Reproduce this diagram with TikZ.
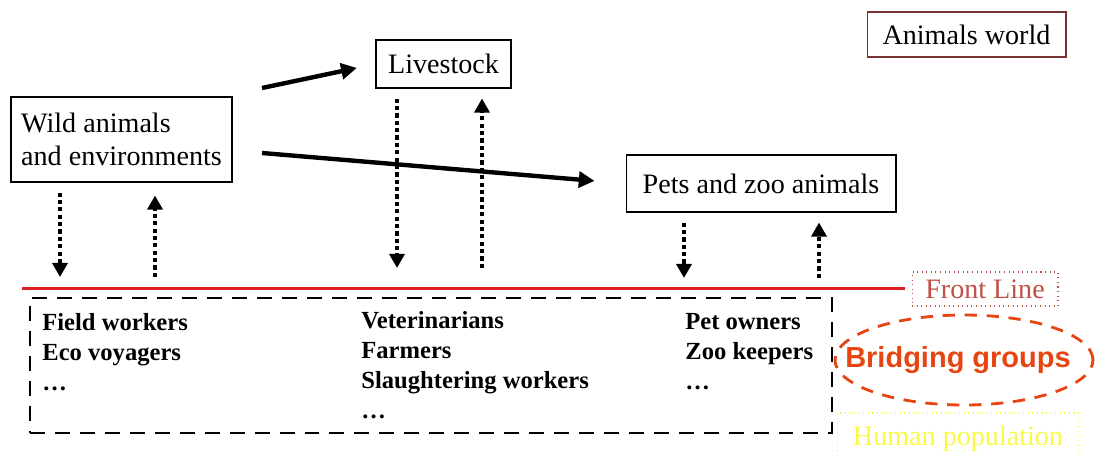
\documentclass[tikz,border=0pt]{standalone}
\usepackage{fontspec}
\setmainfont{Liberation Serif}
\newfontfamily\arialfont{Liberation Sans}
\usepackage{xcolor}
\usepackage{tikz}
\usetikzlibrary{shapes.geometric, arrows.meta}

\definecolor{frontred}{RGB}{222,30,30}
\definecolor{frontbrown}{RGB}{192,80,70}
\definecolor{bridgeorange}{RGB}{232,68,18}
\definecolor{humanyellow}{RGB}{250,250,70}
\definecolor{worldbrown}{RGB}{120,50,50}

\begin{document}
\begin{tikzpicture}[x=0.02cm, y=-0.02cm,
    box/.style={draw, rectangle, line width=0.6pt, inner sep=0pt, font=\fontsize{16}{19}\selectfont},
    group/.style={align=left, anchor=north west, inner sep=0pt, font=\fontsize{14}{17}\selectfont\bfseries},
    flow/.style={line width=2.5pt, -{Triangle[length=9pt, width=9pt]}},
    dotflow/.style={line width=2.6pt, dash pattern=on 2.4pt off 1.8pt, -{Triangle[length=8pt, width=8.5pt]}}]
     \useasboundingbox (0,0) rectangle (1095,457);

     % boxes of the animals world
     \node[box, align=left, minimum width=4.42cm, minimum height=1.7cm] (wild) at (121.5,139.5) {Wild animals\\and environments};
     \node[box, minimum width=2.7cm, minimum height=0.96cm] (livestock) at (443.5,64) {Livestock};
     \node[box, minimum width=5.4cm, minimum height=1.14cm] (pets) at (761,183.5) {Pets and zoo animals};
     \node[box, draw=worldbrown, minimum width=3.98cm, minimum height=0.9cm] (world) at (966.5,34.5) {Animals world};

     % front line
     \coordinate (fl) at (22,288);
     \coordinate (fr) at (905,288);
     \draw[frontred, line width=1.7pt] (fl) -- (fr);
     \node[box, draw=frontbrown, text=frontbrown, dotted, minimum width=2.92cm, minimum height=0.68cm] (front) at (985,289) {Front Line};

     % solid arrows between the animal groups
     \coordinate (w1) at (262,88);
     \coordinate (w2) at (262,153);
     \draw[flow, shorten >=0.38cm] (w1) -- (livestock.west);
     \draw[flow, shorten >=0.62cm] (w2) -- (pets.west);

     % dotted arrows to and from the front line
     \coordinate (wd) at (60,277);
     \coordinate (wu) at (155,277);
     \coordinate (ld) at (397,268);
     \coordinate (lu) at (482,268);
     \coordinate (pd) at (684,278);
     \coordinate (pu) at (819,278);
     \draw[dotflow, shorten <=0.2cm] (wild.south -| wd) -- (wd);
     \draw[dotflow, shorten >=0.26cm] (wu) -- (wild.south -| wu);
     \draw[dotflow, shorten <=0.2cm] (livestock.south -| ld) -- (ld);
     \draw[dotflow, shorten >=0.2cm] (lu) -- (livestock.south -| lu);
     \draw[dotflow, shorten <=0.2cm] (pets.south -| pd) -- (pd);
     \draw[dotflow, shorten >=0.2cm] (pu) -- (pets.south -| pu);

     % bridging groups
     \node[draw, line width=1.5pt, dash pattern=on 8.5pt off 5.7pt, minimum width=16.04cm, minimum height=2.7cm] (groups) at (431,365.5) {};
     \node[group] (field) at (42,313) {Field workers\\Eco voyagers\\\dots};
     \node[group] (vets) at (361,311) {Veterinarians\\Farmers\\Slaughtering workers\\\dots};
     \node[group] (owners) at (685,313) {Pet owners\\Zoo keepers\\\dots};
     \node[text=bridgeorange, inner sep=0pt, font=\arialfont\fontsize{16.5}{19}\selectfont\bfseries] (bridge) at (958,360) {Bridging groups};
     \draw[bridgeorange, line width=1.6pt, dash pattern=on 7pt off 5.5pt] (bridge.center) ++(6,0) ellipse [x radius=2.58cm, y radius=0.9cm];
     \node[box, draw=humanyellow, text=humanyellow, dotted, minimum width=4.82cm, minimum height=1.04cm] (human) at (958,439) {Human population};
\end{tikzpicture}
\end{document}
